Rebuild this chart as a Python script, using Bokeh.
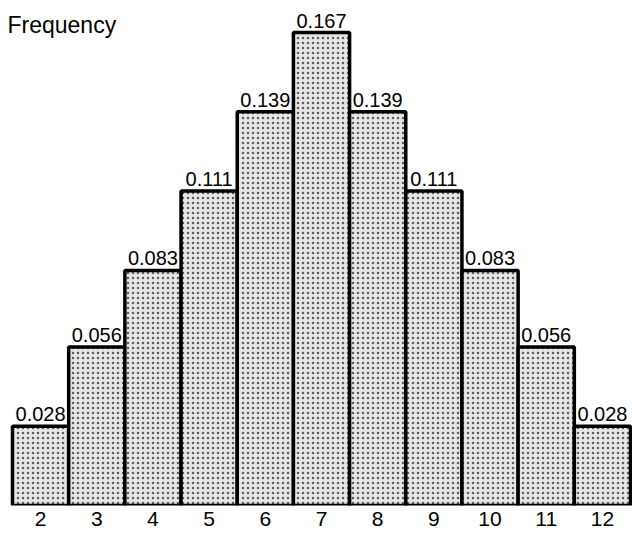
from bokeh.plotting import figure
from bokeh.models import ColumnDataSource, FixedTicker, Label, LabelSet
from bokeh.embed import file_html
from bokeh.resources import INLINE
from bokeh.core.properties import value

# Data
sums = [2, 3, 4, 5, 6, 7, 8, 9, 10, 11, 12]
frequencies = [0.028, 0.056, 0.083, 0.111, 0.139, 0.167, 0.139, 0.111, 0.083, 0.056, 0.028]
value_labels = ["0.028", "0.056", "0.083", "0.111", "0.139", "0.167", "0.139", "0.111", "0.083", "0.056", "0.028"]
y_title = "Frequency"

src = ColumnDataSource(dict(x=sums, top=frequencies, lab=value_labels))

p = figure(frame_width=632, frame_height=505,
           x_range=(1.2864, 12.5356), y_range=(0, 0.1783),
           output_backend="svg", toolbar_location=None,
           min_border=0, min_border_left=0, min_border_right=0,
           min_border_top=0, min_border_bottom=0)
p.outline_line_color = None
p.xgrid.visible = False
p.ygrid.visible = False
p.yaxis.visible = False
p.background_fill_color = "white"
p.border_fill_color = "white"

p.vbar(x="x", top="top", bottom=0, width=1, source=src,
       fill_color="#e6e6e6", line_color="black", line_width=3.5,
       hatch_pattern="dot", hatch_color="#222222", hatch_scale=5, hatch_weight=1, hatch_alpha=0.7)

p.add_layout(LabelSet(x="x", y="top", text="lab", source=src, text_align="center",
                      text_baseline="alphabetic", y_offset=5,
                      text_font=value("Liberation Sans"), text_font_size=value("20px"),
                      text_color="black"))

p.add_layout(Label(x=1.2864 + 7 / 56.18, y=0.1695, text=y_title, text_baseline="alphabetic",
                   text_font="Liberation Sans", text_font_size="23px", text_color="black"))

ax = p.xaxis[0]
ax.ticker = FixedTicker(ticks=sums)
ax.axis_line_color = None
ax.major_tick_line_color = None
ax.minor_tick_line_color = None
ax.major_tick_out = 0
ax.major_tick_in = 0
ax.major_label_standoff = 6
ax.major_label_text_font = "Liberation Sans"
ax.major_label_text_font_size = "21px"
ax.major_label_text_color = "black"

open("out.html", "w").write(file_html(p, INLINE))
